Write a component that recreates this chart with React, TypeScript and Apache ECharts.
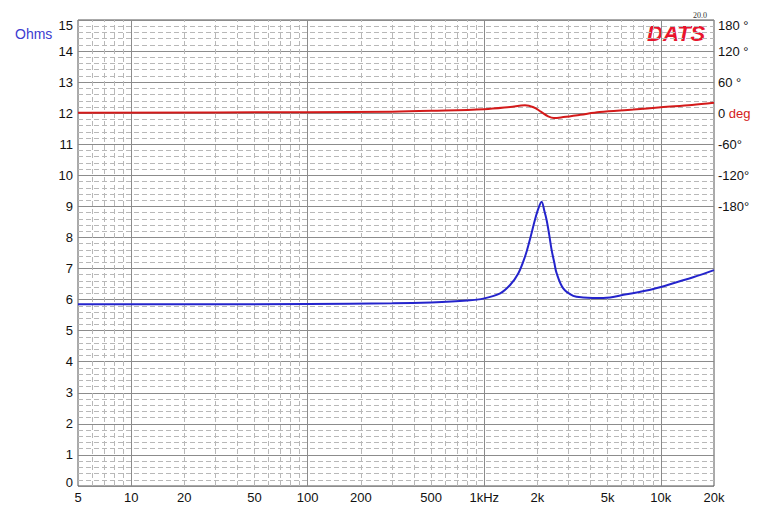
import React, { useEffect, useRef } from "react";
import * as echarts from "echarts";

// Impedance magnitude (Ohms) vs frequency (Hz)
const FREQ_Z = [5, 20, 100, 300, 500, 800, 1000, 1230, 1400, 1560, 1700, 1810, 1935, 2030, 2112, 2190, 2254, 2330, 2406, 2490, 2568, 2800, 3190, 3630, 4720, 6400, 8300, 9880, 12270, 15240, 20000];
const IMP_Z = [5.85, 5.85, 5.86, 5.88, 5.91, 5.97, 6.04, 6.2, 6.47, 6.85, 7.38, 7.92, 8.56, 8.95, 9.15, 8.85, 8.56, 8.1, 7.6, 7.2, 6.85, 6.36, 6.12, 6.07, 6.05, 6.17, 6.29, 6.4, 6.56, 6.72, 6.95];

// Phase (degrees) vs frequency (Hz)
const FREQ_P = [5, 100, 300, 500, 1000, 1400, 1700, 1900, 2100, 2300, 2480, 2800, 3500, 4500, 7000, 10000, 15000, 20000];
const PHASE = [1, 2, 3, 4.5, 7.5, 12, 15.5, 11.5, 2.5, -6, -9.3, -7.5, -3, 2.4, 7, 11.4, 15.8, 20];

// Axis labels / grid
const X_LABELS = [5, 10, 20, 50, 100, 200, 500, 1000, 2000, 5000, 10000, 20000];
const X_GRID_DECADES = [10, 100, 1000, 10000];
const X_GRID_MINOR = [6, 7, 8, 9, 20, 30, 40, 50, 60, 70, 80, 90, 200, 300, 400, 500, 600, 700, 800, 900, 2000, 3000, 4000, 5000, 6000, 7000, 8000, 9000];

const FONT = "'Liberation Sans', Arial, Helvetica, sans-serif";
const BLUE = "#2424cc";
const RED = "#d41a1a";

function xLabel(v: number): string {
  if (v === 1000) return "1kHz";
  if (v >= 1000) return v / 1000 + "k";
  return String(v);
}

export default function App() {
  const ref = useRef<HTMLDivElement>(null);
  useEffect(() => {
    if (!ref.current) return;
    const chart = echarts.init(ref.current, null, { renderer: "svg" });
    const zData = FREQ_Z.map((f, i) => [f, IMP_Z[i]]);
    const pData = FREQ_P.map((f, i) => [f, PHASE[i]]);
    const gridLines = [
      ...X_GRID_MINOR.map((v) => ({
        xAxis: v,
        lineStyle: { color: "#b8b8b8", type: [5, 3], width: 1 },
      })),
      ...X_GRID_DECADES.map((v) => ({
        xAxis: v,
        lineStyle: { color: "#8c8c8c", type: "solid", width: 1 },
      })),
    ];
    chart.setOption({
      animation: false,
      backgroundColor: "#ffffff",
      grid: {
        left: 78,
        right: 50,
        top: 20,
        bottom: 29,
        show: true,
        borderColor: "#555",
        borderWidth: 1,
        backgroundColor: "transparent",
      },
      xAxis: {
        type: "log",
        logBase: 10,
        min: 5,
        max: 20000,
        axisLine: { show: false },
        axisTick: { show: false },
        splitLine: { show: false },
        axisLabel: {
          customValues: X_LABELS,
          formatter: (v: number) => xLabel(Math.round(v)),
          color: "#111",
          fontFamily: FONT,
          fontSize: 13,
          margin: 5,
          showMinLabel: true,
          showMaxLabel: true,
        },
      },
      yAxis: [
        {
          type: "value",
          min: 0,
          max: 15,
          interval: 1,
          axisLine: { show: false },
          axisTick: { show: false },
          splitLine: { show: true, lineStyle: { color: "#8c8c8c", width: 1 } },
          minorTick: { show: false, splitNumber: 5 },
          minorSplitLine: { show: true, lineStyle: { color: "#b8b8b8", type: [5, 3], width: 1 } },
          axisLabel: {
            color: "#111",
            fontFamily: FONT,
            fontSize: 13,
            margin: 5,
            formatter: (v: number) => {
              if (v === 15) return "{top|15}";
              if (v === 0) return "{bot|0}";
              return String(v);
            },
            rich: {
              top: { fontFamily: FONT, fontSize: 13, color: "#111", padding: [10, 0, 0, 0] },
              bot: { fontFamily: FONT, fontSize: 13, color: "#111", padding: [0, 0, 8, 0] },
            },
          },
        },
        {
          type: "value",
          min: -720,
          max: 180,
          interval: 60,
          position: "right",
          axisLine: { show: false },
          axisTick: { show: false },
          splitLine: { show: false },
          axisLabel: {
            color: "#111",
            fontFamily: FONT,
            fontSize: 13,
            margin: 4,
            formatter: (v: number) => {
              if (v < -180) return "";
              if (v === 180) return "{top|180 °}";
              if (v === 0) return "0 {deg|deg}";
              if (v > 0) return v + " °";
              return v + "°";
            },
            rich: {
              top: { fontFamily: FONT, fontSize: 13, color: "#111", padding: [10, 0, 0, 0] },
              deg: { fontFamily: FONT, fontSize: 13, color: RED },
            },
          },
        },
      ],
      graphic: [
        {
          type: "text",
          left: 15,
          top: 27,
          style: { text: "Ohms", fill: "#3c3cd0", font: `14px ${FONT}` },
        },
        {
          type: "text",
          left: 647,
          top: 22,
          style: { text: "DATS", fill: "#e8142c", font: `italic 900 22px ${FONT}` },
        },
        {
          type: "text",
          left: 693,
          top: 11,
          style: { text: "20.0", fill: "#333", font: `8px 'Liberation Serif', serif` },
        },
      ],
      series: [
        {
          type: "line",
          data: [],
          silent: true,
          markLine: {
            silent: true,
            symbol: "none",
            label: { show: false },
            data: gridLines,
          },
          z: 1,
        },
        {
          name: "Impedance",
          type: "line",
          yAxisIndex: 0,
          data: zData,
          showSymbol: false,
          smooth: 0.35,
          lineStyle: { color: BLUE, width: 2 },
          itemStyle: { color: BLUE },
          z: 5,
        },
        {
          name: "Phase",
          type: "line",
          yAxisIndex: 1,
          data: pData,
          showSymbol: false,
          smooth: 0.35,
          lineStyle: { color: RED, width: 2 },
          itemStyle: { color: RED },
          z: 5,
        },
      ],
    });
    return () => chart.dispose();
  }, []);
  return <div ref={ref} style={{ width: 764, height: 515, margin: -8 }} />;
}
